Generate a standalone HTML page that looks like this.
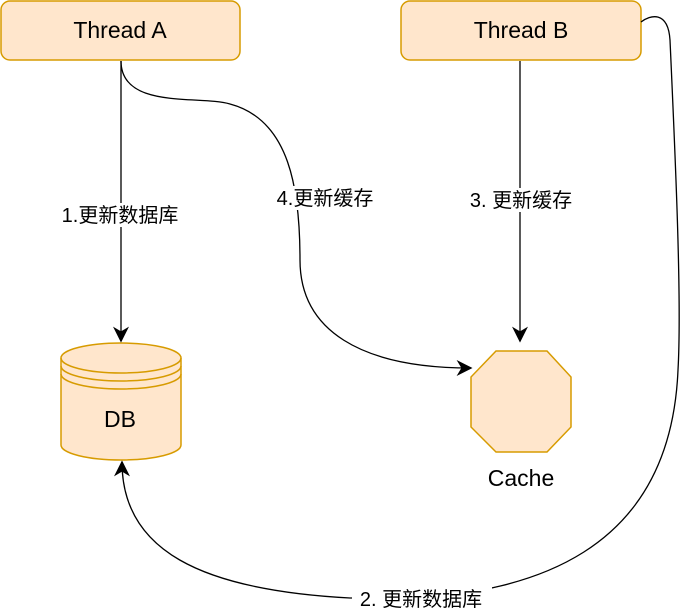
<!DOCTYPE html>
<html><head><meta charset="utf-8"><style>
body{margin:0;background:#fff;}
svg{display:block;font-family:"Liberation Sans","Noto Sans CJK SC",sans-serif;}
</style></head><body>
<svg width="682" height="612" viewBox="0 0 682 612">
<defs>
<marker id="b" viewBox="0 0 10 10" refX="9" refY="5" markerWidth="16" markerHeight="16" markerUnits="userSpaceOnUse" orient="auto"><path d="M0,0 L10,5 L0,10 L3,5 Z" fill="#000"/></marker></defs>
<rect x="1" y="1" width="239" height="59" rx="9" fill="#ffe6cc" stroke="#d79b00" stroke-width="1.5"/>
<text x="120" y="38" font-size="23" text-anchor="middle">Thread A</text>
<rect x="401" y="1" width="240" height="59" rx="9" fill="#ffe6cc" stroke="#d79b00" stroke-width="1.5"/>
<text x="521" y="38" font-size="23" text-anchor="middle">Thread B</text>
<path d="M61,358 A60,15 0 0 1 181,358 L181,445 A60,15 0 0 1 61,445 Z" fill="#ffe6cc" stroke="#d79b00" stroke-width="1.5"/>
<path d="M61,358 A60,15 0 0 0 181,358 M61,366 A60,15 0 0 0 181,366 M61,374 A60,15 0 0 0 181,374" fill="none" stroke="#d79b00" stroke-width="1.5"/>
<text x="120" y="427" font-size="23" text-anchor="middle">DB</text>
<polygon points="496,351 547,351 571,377 571,427 547,452 496,452 471,427 471,377" fill="#ffe6cc" stroke="#d79b00" stroke-width="1.5"/>
<text x="521" y="486" font-size="23" text-anchor="middle">Cache</text>
<g fill="none" stroke="#000" stroke-width="1.3">
<path d="M121,61 L121,341" marker-end="url(#b)"/>
<path d="M520,61 L520,341" marker-end="url(#b)"/>
<path d="M121,61 C121,110 200,95 230,104 C290,120 300,190 300,260 C300,330 360,368 471,368" marker-end="url(#b)"/>
<path d="M641,22 C650,15 668,10 670,40 C675,150 682,300 678,370 C670,560 520,590 420,598 L350,598 C200,590 122,550 122,462" marker-end="url(#b)"/>
</g>
<rect x="55" y="203" width="132" height="24" fill="#fff"/>
<text x="120" y="222" font-size="20" text-anchor="middle">1.更新数据库</text>
<rect x="270" y="186" width="112" height="24" fill="#fff"/>
<text x="325" y="205" font-size="20" text-anchor="middle">4.更新缓存</text>
<rect x="463" y="188" width="116" height="24" fill="#fff"/>
<text x="521" y="207" font-size="20" text-anchor="middle">3. 更新缓存</text>
<rect x="352" y="587" width="140" height="25" fill="#fff"/>
<text x="421" y="606" font-size="20" text-anchor="middle">2. 更新数据库</text>
</svg>
</body></html>
